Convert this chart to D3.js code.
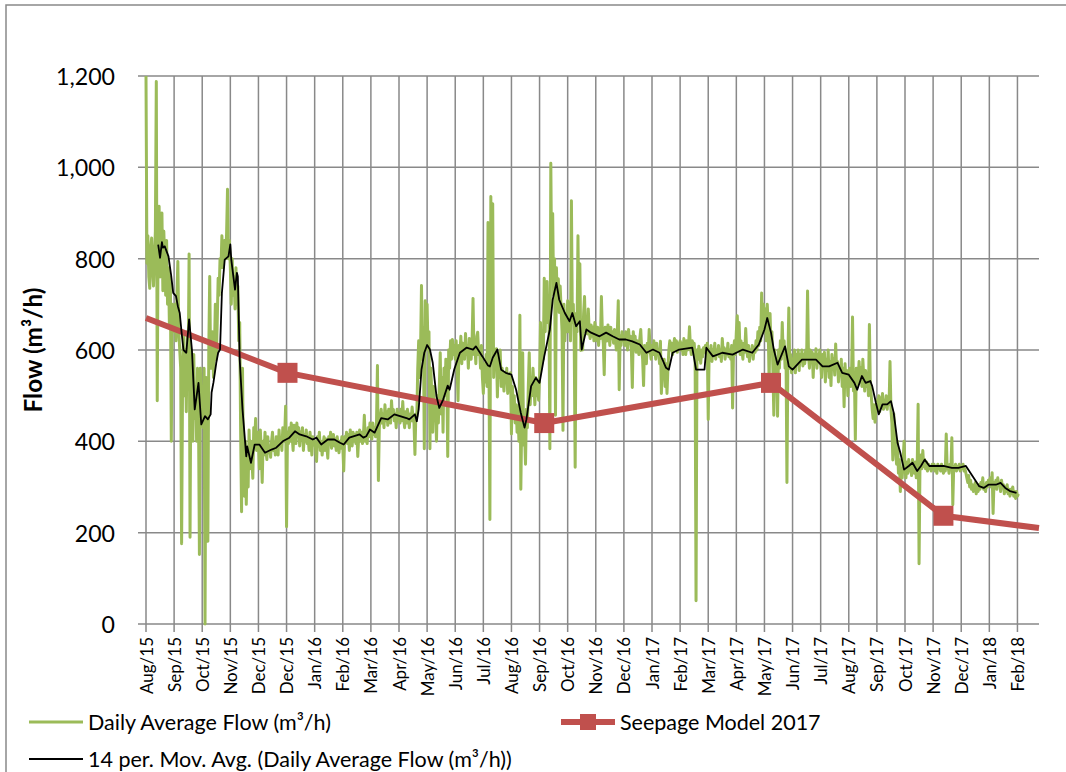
<!DOCTYPE html>
<html>
<head>
<meta charset="utf-8">
<script src="https://cdn.jsdelivr.net/npm/d3@7"></script>
<style>
  body { margin: 0; background: #fff; }
  svg { display: block; }
  text { font-family: Lato, "Noto Sans", sans-serif; fill: #000; }
</style>
</head>
<body>
<svg id="chart" width="1066" height="772"></svg>
<script>
// ---------------- DATA ----------------
// Day 0 = 3 Aug 2015; the category axis has a major unit of 30 days.
const startDate = "2015-08-03";
const tickStepDays = 30;
const tickLabels = ["Aug/15","Sep/15","Oct/15","Nov/15","Dec/15","Dec/15","Jan/16","Feb/16","Mar/16","Apr/16",
  "May/16","Jun/16","Jul/16","Aug/16","Sep/16","Oct/16","Nov/16","Dec/16","Jan/17","Feb/17","Mar/17","Apr/17",
  "May/17","Jun/17","Jul/17","Aug/17","Sep/17","Oct/17","Nov/17","Dec/17","Jan/18","Feb/18"];
const axisMaxDay = 953;
const yTicks = [0, 200, 400, 600, 800, 1000, 1200];

// Daily Average Flow (m3/h), one value per day from day 0
const dailyFlow = [
  1200,790,850,760,735,820,845,780,740,800,860,1188,489,880,915,760,820,900,730,860,800,720,840,700,780,650,760,400,700,640,
  650,700,620,720,794,640,600,560,176,520,640,500,600,465,640,560,810,190,600,540,400,590,450,520,400,560,470,152,560,480,
  520,430,560,0,540,480,181,600,761,560,560,640,540,600,700,580,660,757,720,800,780,850,780,800,840,800,855,952,800,840,
  780,700,800,720,760,690,780,700,740,620,660,420,246,560,330,280,400,262,380,300,425,340,400,360,319,430,400,450,380,420,
  400,340,425,380,310,400,370,420,380,360,410,375,390,365,400,420,380,395,370,410,390,370,425,390,405,380,430,400,410,477,
  213,420,395,430,400,440,410,380,435,420,395,440,410,430,390,420,405,430,380,415,400,425,395,410,380,420,400,370,410,395,
  400,385,356,410,390,420,380,400,370,395,410,380,405,390,363,410,395,420,385,400,415,390,405,380,410,395,375,400,385,410,
  390,335,410,400,420,395,415,380,425,405,390,420,400,415,395,420,367,410,425,400,420,395,410,457,400,420,395,430,410,440,
  420,405,440,415,430,410,445,566,314,430,450,470,440,460,430,480,445,465,435,470,450,440,489,455,470,445,460,430,470,450,
  460,440,470,445,487,450,430,465,440,470,455,430,460,445,475,450,440,371,460,455,560,620,540,600,741,580,650,384,708,620,
  700,600,640,384,560,500,420,520,460,480,400,500,440,520,594,460,540,420,560,500,580,540,367,600,560,620,580,623,590,610,
  580,620,560,489,610,590,630,570,615,600,580,636,590,610,560,625,600,580,620,713,590,610,570,630,639,590,600,560,610,540,
  505,570,530,590,520,879,560,229,936,600,920,540,600,570,603,497,580,540,600,520,560,540,510,550,530,560,505,545,520,550,
  416,520,470,500,440,480,420,460,400,676,295,450,594,392,420,350,470,430,520,594,480,540,500,560,520,480,540,500,530,490,
  540,660,560,620,580,757,640,720,750,660,700,384,1009,760,899,720,800,457,780,700,756,682,740,690,640,424,700,620,680,640,
  708,640,690,620,927,660,700,610,343,680,640,850,660,789,599,640,600,680,717,640,670,635,690,640,625,655,630,650,620,660,
  640,620,650,610,645,625,717,640,615,546,650,630,620,655,635,610,650,625,640,615,645,620,600,640,708,513,630,610,640,620,
  630,610,640,620,600,645,615,630,600,518,640,615,630,595,620,605,590,625,645,600,580,522,610,590,570,615,595,645,600,580,
  610,590,620,600,580,615,590,600,570,619,505,560,540,580,520,570,505,560,600,620,600,615,590,610,625,600,620,595,615,605,
  620,600,615,590,625,605,590,620,600,610,651,605,590,620,600,615,590,51,600,580,608,590,571,600,585,605,595,610,590,615,
  448,600,585,610,575,600,590,615,580,600,590,610,585,600,575,625,595,605,580,600,590,615,585,600,580,610,473,600,620,590,
  640,675,600,660,590,620,600,580,615,595,647,600,585,610,575,600,590,610,580,605,595,620,600,640,610,650,620,725,640,700,
  660,690,620,700,650,527,680,600,640,560,457,600,540,580,455,600,560,620,580,660,590,620,560,600,310,580,692,560,590,550,
  580,560,600,550,590,570,600,555,590,575,600,565,590,570,600,580,729,590,560,600,575,595,540,590,570,603,560,590,575,600,
  570,540,590,560,595,530,580,555,600,540,575,522,590,560,580,545,613,560,575,530,560,545,580,520,560,476,570,530,555,500,
  540,560,520,550,672,510,545,404,560,520,540,575,530,560,520,580,540,510,555,520,545,500,656,520,500,470,450,480,442,470,
  490,470,500,465,495,480,505,470,490,475,500,470,495,480,575,470,440,359,460,420,380,350,400,330,360,290,340,320,360,400,
  340,320,355,330,360,335,350,325,360,340,330,355,320,345,481,132,350,370,340,380,345,360,340,355,335,350,340,345,335,350,
  340,350,335,345,330,350,340,345,335,350,340,330,345,335,416,340,345,330,350,340,408,261,345,340,350,335,345,340,350,335,
  345,340,350,335,340,330,320,310,325,300,315,295,305,290,300,310,285,300,290,305,295,310,300,320,295,305,290,310,300,315,
  305,320,300,331,242,310,300,315,295,320,305,310,290,315,300,305,285,300,290,305,285,295,280,295,285,300,280,290,275,290,
  280,285
];

// 14 per. Mov. Avg. trendline (day, value)
const maDay = [13,15,17,18,20,24,27,29,32,34,36,38,40,43,46,49,52,56,59,63,66,69,70,72,75,77,79,81,84,88,90,91,95,97,98,100,
  103,107,108,112,116,121,127,134,139,146,153,159,164,171,178,182,187,194,201,207,211,217,228,232,235,239,244,251,258,265,278,
  281,287,289,291,294,297,300,303,306,310,313,317,322,324,329,335,342,349,352,359,365,367,370,375,379,384,390,395,400,404,406,
  411,416,420,425,431,434,438,441,447,452,455,459,463,465,470,475,484,491,498,505,512,519,527,534,541,548,555,558,562,569,583,
  587,596,598,605,615,626,637,647,654,660,663,667,670,674,677,682,686,690,695,700,708,715,722,729,738,743,750,756,759,764,768,
  773,775,779,782,786,791,795,798,802,805,809,814,818,823,827,831,836,843,851,860,867,875,882,889,894,899,907,912,917,922,929];
const maValue = [831,802,836,824,827,805,761,725,718,696,681,638,600,594,667,601,470,528,437,455,448,459,507,529,572,594,601,725,798,805,831,798,732,769,761,579,
  470,367,389,353,393,393,375,382,386,400,408,422,415,411,404,408,393,404,404,397,393,408,415,408,411,426,419,451,448,459,451,
  448,459,444,470,557,594,611,601,572,499,473,491,522,513,558,594,605,601,608,586,566,564,583,601,557,550,546,513,462,430,448,
  521,539,528,586,645,710,747,710,681,663,681,652,663,601,645,638,630,638,630,623,623,619,612,594,601,594,561,557,594,601,605,
  557,557,605,586,594,590,601,594,612,645,670,638,601,568,583,608,564,557,568,579,579,579,564,564,572,550,546,528,513,543,528,
  532,521,484,459,481,481,488,462,397,375,338,346,353,335,346,360,346,346,346,342,342,346,324,302,298,305,305,309,298,291,287];

// Seepage Model 2017 (day, value)
const seepageDay = [0, 151, 425, 667, 851, 953];
const seepageValue = [670, 550, 440, 528, 237, 210];

// ---------------- CHART ----------------
const svg = d3.select("#chart");
const W = 1066, H = 772;
const plot = { left: 146, right: 1039, top: 76, bottom: 624 };

svg.append("rect").attr("x", 6).attr("y", 5).attr("width", W + 20).attr("height", H + 20)
  .attr("fill", "#fff").attr("stroke", "#898989").attr("stroke-width", 1.5);

const x = d3.scaleLinear().domain([0, axisMaxDay]).range([plot.left, plot.right]);
const y = d3.scaleLinear().domain([0, 1200]).range([plot.bottom, plot.top]);

function fitSize(str, target, weight) {
  const t = svg.append("text").attr("font-size", 100).attr("font-weight", weight || "normal").text(str);
  const w = t.node().getComputedTextLength();
  t.remove();
  return 100 * target / w;
}
const fsY = fitSize("1,200", 59);
const fsX = fitSize("Aug/15", 57);
const fsLeg = fitSize("Daily Average Flow (m³/h)", 243);
const fsTitle = fitSize("Flow (m³/h)", 125, "bold");

const tickDays = tickLabels.map((_, i) => i * tickStepDays);
const grid = svg.append("g").attr("stroke", "#898989").attr("stroke-width", 1.5);
// horizontal gridlines (+ outside tick marks)
grid.selectAll("line.h").data(yTicks).join("line")
  .attr("x1", plot.left - 8).attr("x2", plot.right)
  .attr("y1", d => y(d)).attr("y2", d => y(d));
// vertical gridlines (+ outside tick marks)
grid.selectAll("line.v").data(tickDays).join("line")
  .attr("x1", d => x(d)).attr("x2", d => x(d))
  .attr("y1", plot.top).attr("y2", plot.bottom + 8);

// y tick labels
const fmt = d3.format(",");
svg.append("g").selectAll("text").data(yTicks).join("text")
  .attr("x", 115).attr("y", d => y(d))
  .attr("text-anchor", "end").attr("dominant-baseline", "central")
  .attr("font-size", fsY).text(d => fmt(d));

// x tick labels (rotated)
svg.append("g").selectAll("text").data(tickDays).join("text")
  .attr("transform", d => `translate(${x(d)},${plot.bottom + 13}) rotate(-90)`)
  .attr("text-anchor", "end").attr("dominant-baseline", "central")
  .attr("font-size", fsX).text((d, i) => tickLabels[i]);

// y axis title
svg.append("text").attr("transform", "translate(32,350) rotate(-90)")
  .attr("text-anchor", "middle").attr("dominant-baseline", "central")
  .attr("font-weight", "bold").attr("font-size", fsTitle).text("Flow (m³/h)");

// daily flow line
const lineDaily = d3.line().x((d, i) => x(i)).y(d => y(d));
svg.append("path").datum(dailyFlow).attr("d", lineDaily)
  .attr("fill", "none").attr("stroke", "#9BBB59").attr("stroke-width", 3).attr("stroke-linejoin", "round");

// seepage model
const seep = seepageDay.map((d, i) => [d, seepageValue[i]]);
svg.append("path").datum(seep).attr("d", d3.line().x(d => x(d[0])).y(d => y(d[1])))
  .attr("fill", "none").attr("stroke", "#C0504D").attr("stroke-width", 6).attr("stroke-linejoin", "round");
svg.append("g").selectAll("rect").data(seep.slice(1, 5)).join("rect")
  .attr("x", d => x(d[0]) - 10).attr("y", d => y(d[1]) - 10)
  .attr("width", 20).attr("height", 20).attr("fill", "#C0504D");

// moving average
const ma = maDay.map((d, i) => [d, maValue[i]]);
svg.append("path").datum(ma).attr("d", d3.line().x(d => x(d[0])).y(d => y(d[1])))
  .attr("fill", "none").attr("stroke", "#000").attr("stroke-width", 1.8).attr("stroke-linejoin", "round");

// legend
const lg = svg.append("g");
lg.append("line").attr("x1", 29).attr("x2", 83).attr("y1", 722).attr("y2", 722)
  .attr("stroke", "#9BBB59").attr("stroke-width", 3);
lg.append("text").attr("x", 88).attr("y", 722).attr("dominant-baseline", "central")
  .attr("font-size", fsLeg).text("Daily Average Flow (m³/h)");
lg.append("line").attr("x1", 561).attr("x2", 615).attr("y1", 722).attr("y2", 722)
  .attr("stroke", "#C0504D").attr("stroke-width", 6);
lg.append("rect").attr("x", 580).attr("y", 714).attr("width", 16).attr("height", 16).attr("fill", "#C0504D");
lg.append("text").attr("x", 620).attr("y", 722).attr("dominant-baseline", "central")
  .attr("font-size", fsLeg).text("Seepage Model 2017");
lg.append("line").attr("x1", 29).attr("x2", 83).attr("y1", 759).attr("y2", 759)
  .attr("stroke", "#000").attr("stroke-width", 1.8);
lg.append("text").attr("x", 88).attr("y", 759).attr("dominant-baseline", "central")
  .attr("font-size", fsLeg).text("14 per. Mov. Avg. (Daily Average Flow (m³/h))");
</script>
</body>
</html>
